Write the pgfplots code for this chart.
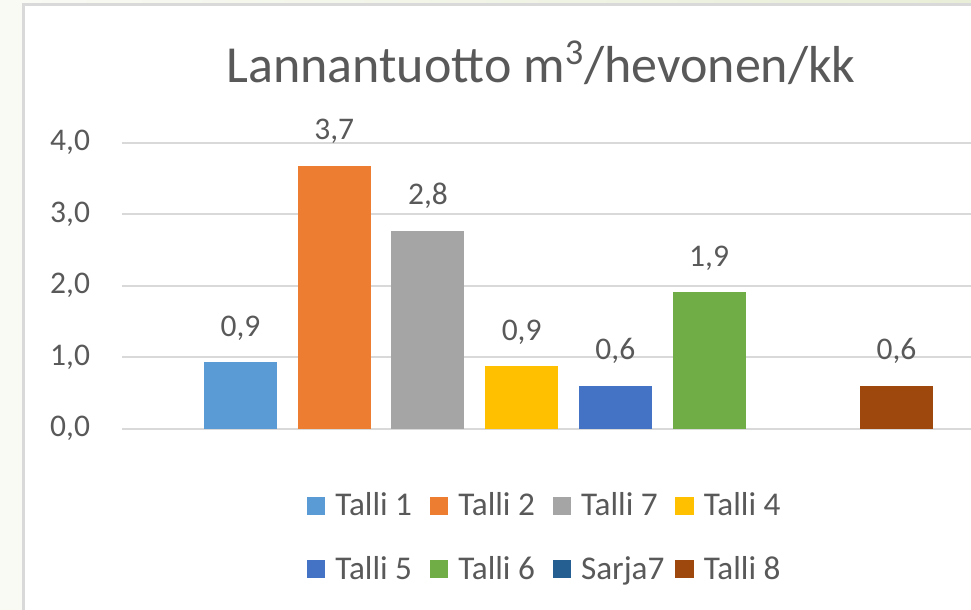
\documentclass[border=0pt]{standalone}
\usepackage{fontspec}
\setmainfont{Carlito}
\usepackage{pgfplots}
\pgfplotsset{compat=1.18}
\definecolor{c1}{HTML}{5B9BD5}
\definecolor{c2}{HTML}{ED7D31}
\definecolor{c3}{HTML}{A5A5A5}
\definecolor{c4}{HTML}{FFC000}
\definecolor{c5}{HTML}{4472C4}
\definecolor{c6}{HTML}{70AD47}
\definecolor{c7}{HTML}{255E91}
\definecolor{c8}{HTML}{9E480E}
\definecolor{txt}{HTML}{595959}
\definecolor{gridc}{HTML}{D9D9D9}
\definecolor{bgl}{HTML}{F9FAF4}
\definecolor{bgr}{HTML}{E8EED8}
\newcommand{\lent}[2]{\makebox[61.4pt][l]{\textcolor{#1}{\rule[0.6pt]{9.2pt}{9pt}}\hspace{5pt}#2}}
\begin{document}
\begin{tikzpicture}
\clip (0pt,0pt) rectangle (485.5pt,305pt);
\shade[left color=bgl, right color=bgr] (0pt,0pt) rectangle (485.5pt,305pt);
\fill[white] (11.8pt,-5pt) rectangle (495pt,302.6pt);
\draw[gridc, line width=1.5pt] (11.8pt,-5pt) -- (11.8pt,302.6pt) -- (495pt,302.6pt);
\node[anchor=base, font=\fontsize{26}{31}\selectfont, text=txt, inner sep=0pt] at (270.5pt,263.85pt) {Lannantuotto m\textsuperscript{3}/hevonen/kk};
\begin{axis}[
  at={(61pt,90.65pt)}, anchor=south west,
  scale only axis, width=446.5pt, height=143pt,
  ybar, bar width=36.5pt,
  xmin=-1.265, xmax=8.265, ymin=0, ymax=4,
  xtick=\empty, ytick={0,1,2,3,4},
  axis line style={draw=none},
  major tick length=0pt,
  ymajorgrids, grid style={gridc, line width=0.9pt},
  clip=false,
  /pgf/number format/assume math mode=true,
  yticklabel={\pgfmathprintnumber[fixed,fixed zerofill,precision=1,use comma]{\tick}},
  yticklabel style={anchor=east, inner sep=0pt, xshift=-15.8pt, font=\fontsize{15.75}{18}\selectfont, text=txt},
  nodes near coords={\pgfmathprintnumber[fixed,fixed zerofill,precision=1,use comma,assume math mode=true]{\pgfplotspointmeta}},
  every node near coord/.append style={anchor=base, inner sep=0pt, yshift=13pt, font=\fontsize{15.75}{18}\selectfont, text=txt},
  legend image code/.code={},
  legend columns=4,
  legend style={at={(axis description cs:0.2068,-0.2265)}, anchor=north west,
    draw=none, fill=none, inner sep=0pt, row sep=17.67pt, column sep=0pt,
    font=\fontsize{16.6}{19}\selectfont, text=txt,
    nodes={inner sep=0pt, text height=11pt, text depth=3pt}},
  legend cell align=left,
]
\addplot[fill=c1, draw=none, bar shift=0pt] coordinates {(0,0.93)};
\addlegendentry{\lent{c1}{Talli 1}}
\addplot[fill=c2, draw=none, bar shift=0pt] coordinates {(1,3.68)};
\addlegendentry{\lent{c2}{Talli 2}}
\addplot[fill=c3, draw=none, bar shift=0pt] coordinates {(2,2.77)};
\addlegendentry{\lent{c3}{Talli 7}}
\addplot[fill=c4, draw=none, bar shift=0pt] coordinates {(3,0.87)};
\addlegendentry{\lent{c4}{Talli 4}}
\addplot[fill=c5, draw=none, bar shift=0pt] coordinates {(4,0.60)};
\addlegendentry{\lent{c5}{Talli 5}}
\addplot[fill=c6, draw=none, bar shift=0pt] coordinates {(5,1.91)};
\addlegendentry{\lent{c6}{Talli 6}}
\addlegendimage{fill=c7, draw=none}
\addlegendentry{\lent{c7}{Sarja7}}
\addplot[fill=c8, draw=none, bar shift=0pt] coordinates {(7,0.60)};
\addlegendentry{\lent{c8}{Talli 8}}
\end{axis}
\end{tikzpicture}
\end{document}
